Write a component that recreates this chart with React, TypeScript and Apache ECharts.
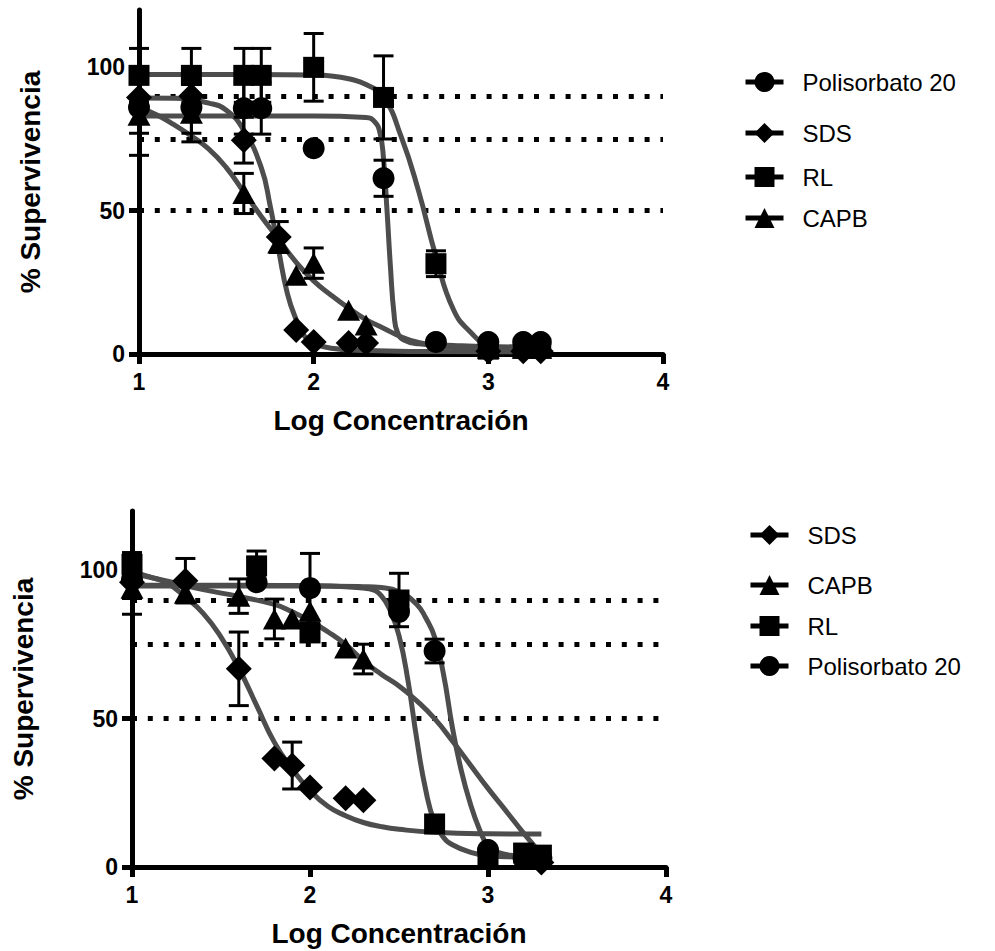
import React, { useEffect, useRef } from 'react';
import * as echarts from 'echarts';

const FONT = '"Liberation Sans", Arial, Helvetica, sans-serif';

const NAME_POL = 'Polisorbato 20';
const NAME_SDS = 'SDS';
const NAME_RL = 'RL';
const NAME_CAPB = 'CAPB';

const xTicks = [1, 2, 3, 4];
const yTicks = [0, 50, 100];
const refLevels = [90, 75, 50];

// ---------- Panel A (top) ----------
const aPolX = [1, 1.3, 1.6, 1.7, 2.0, 2.4, 2.7, 3.0, 3.2, 3.3];
const aPolY = [86, 86, 85.7, 85.7, 71.8, 61.3, 4.2, 4.2, 4.2, 4.2];
const aPolErr = [9, 9, 9, 9, 0, 6.3, 0, 0, 0, 0];

const aSdsX = [1, 1.3, 1.6, 1.8, 1.9, 2.0, 2.2, 2.3, 3.0, 3.2, 3.3];
const aSdsY = [89.5, 90, 74.6, 40.8, 8.4, 4.2, 3.8, 3.8, 1, 1, 1];
const aSdsErr = [0, 0, 8, 5.4, 0, 0, 0, 0, 0, 0, 0];

const aRlX = [1, 1.3, 1.6, 1.7, 2.0, 2.4, 2.7, 3.0, 3.2, 3.3];
const aRlY = [97.2, 97.2, 97.2, 97.2, 100, 89.5, 31.5, 1.7, 2, 2];
const aRlErr = [9.4, 9.4, 9.4, 9.4, 11.8, 14.5, 4.5, 0, 0, 0];

const aCapbX = [1, 1.3, 1.6, 1.8, 1.9, 2.0, 2.2, 2.3, 3.0, 3.2, 3.3];
const aCapbY = [83.3, 84, 56, 38.7, 27.5, 31.7, 15.3, 10.1, 2, 2, 2];
const aCapbErr = [14, 10, 7, 0, 0, 5.3, 0, 0, 0, 0, 0];

const aPolCurveX = [1, 1.5, 2.0, 2.3, 2.35, 2.38, 2.4, 2.42, 2.44, 2.46, 2.48, 2.52, 2.6, 2.8, 3.0, 3.3];
const aPolCurveY = [83, 83, 83, 82.5, 81, 77, 68, 50, 30, 14, 7.5, 4.8, 3.6, 3, 2.6, 2.4];

const aSdsCurveX = [1, 1.2, 1.4, 1.5, 1.6, 1.7, 1.75, 1.8, 1.85, 1.9, 1.95, 2.0, 2.1, 2.3, 2.6, 3.3];
const aSdsCurveY = [89.3, 89.2, 87.5, 85, 78, 65, 52, 36, 21, 12, 6, 3.8, 2, 1.2, 0.9, 0.8];

const aRlCurveX = [1, 1.5, 2.0, 2.1, 2.2, 2.3, 2.4, 2.5, 2.6, 2.7, 2.8, 2.9, 3.0, 3.1, 3.3];
const aRlCurveY = [97.5, 97.5, 97.3, 97, 96, 94, 89.5, 76, 57, 34, 15.5, 7.5, 3, 2, 1.5];

const aCapbCurveX = [1, 1.1, 1.2, 1.3, 1.4, 1.5, 1.6, 1.7, 1.8, 1.9, 2.0, 2.1, 2.2, 2.3, 2.4, 2.5, 2.6, 2.7, 2.9, 3.3];
const aCapbCurveY = [86, 83.5, 80, 76, 71.5, 65, 56.5, 48, 40, 32, 25.5, 20.5, 16, 12, 9, 6, 4, 3, 2, 1.6];

// ---------- Panel B (bottom) ----------
const bSdsX = [1, 1.3, 1.6, 1.8, 1.9, 2.0, 2.2, 2.3, 3.3];
const bSdsY = [96, 96.5, 66.8, 36.6, 34.2, 26.8, 23.2, 22.5, 1.5];
const bSdsErr = [0, 7.5, 12.4, 0, 7.9, 0, 0, 0, 0];

const bCapbX = [1, 1.3, 1.6, 1.8, 1.9, 2.0, 2.2, 2.3, 3.0, 3.2, 3.3];
const bCapbY = [94, 92.3, 91.3, 83.6, 83.6, 86.2, 73.8, 70.1, 3, 3, 3];
const bCapbErr = [8.8, 0, 5.8, 6.7, 0, 0, 0, 5, 0, 0, 0];

const bRlX = [1, 1.7, 2.0, 2.5, 2.7, 3.0, 3.2, 3.3];
const bRlY = [102, 101.5, 78.9, 90, 14.5, 3, 4.7, 4];
const bRlErr = [4, 5, 0, 9, 0, 0, 0, 0];

const bPolX = [1, 1.7, 2.0, 2.5, 2.7, 3.0, 3.2, 3.3];
const bPolY = [97, 96, 94, 86, 72.8, 5.7, 3, 3];
const bPolErr = [6.5, 0, 11.7, 0, 4, 0, 0, 0];

const bSdsCurveX = [1, 1.1, 1.2, 1.3, 1.4, 1.5, 1.6, 1.7, 1.8, 1.9, 2.0, 2.1, 2.2, 2.3, 2.4, 2.5, 2.7, 3.0, 3.3];
const bSdsCurveY = [99.5, 97.8, 95.6, 91, 85.5, 77.5, 67, 54.5, 42, 33, 25.8, 20.5, 17.3, 15, 13.6, 12.7, 11.7, 11.2, 11.1];

const bCapbCurveX = [1, 1.2, 1.4, 1.6, 1.8, 1.9, 2.0, 2.1, 2.2, 2.3, 2.4, 2.5, 2.6, 2.7, 2.8, 2.9, 3.0, 3.1, 3.2, 3.3];
const bCapbCurveY = [99, 96.3, 93.5, 91.2, 88.5, 86, 83, 79.3, 75, 69.5, 65, 61, 56, 50, 42.5, 34.5, 26.5, 19, 11.4, 4.3];

const bRlCurveX = [1, 1.5, 2.0, 2.2, 2.3, 2.35, 2.4, 2.45, 2.5, 2.55, 2.6, 2.65, 2.7, 2.75, 2.8, 2.9, 3.0, 3.15, 3.3];
const bRlCurveY = [95, 95, 94.8, 94.5, 94, 93.5, 91.5, 86.5, 78, 63, 43, 26, 15, 10, 7.5, 5, 3.8, 3.4, 3.3];

const bPolCurveX = [1, 1.5, 2.0, 2.3, 2.4, 2.5, 2.6, 2.65, 2.7, 2.75, 2.8, 2.85, 2.9, 2.95, 3.0, 3.05, 3.15, 3.3];
const bPolCurveY = [94.7, 94.7, 94.7, 94.5, 94.2, 92.8, 88.5, 84, 77.5, 65, 47, 32.5, 21.5, 13, 7, 5, 3.8, 3.2];

const topLegendOrder = [NAME_POL, NAME_SDS, NAME_RL, NAME_CAPB];
const bottomLegendOrder = [NAME_SDS, NAME_CAPB, NAME_RL, NAME_POL];

type Def = {
  name: string; symbol: string; size: number | number[];
  x: number[]; y: number[]; err: number[]; cx: number[]; cy: number[];
};

const SYM: Record<string, { symbol: string; size: number | number[] }> = {
  [NAME_POL]: { symbol: 'circle', size: 22 },
  [NAME_SDS]: { symbol: 'diamond', size: 26 },
  [NAME_RL]: { symbol: 'rect', size: 21 },
  [NAME_CAPB]: { symbol: 'triangle', size: [23, 21] },
};

const mk = (name: string, x: number[], y: number[], err: number[], cx: number[], cy: number[]): Def => ({
  name, ...SYM[name], x, y, err, cx, cy,
});

const panelA: Def[] = [
  mk(NAME_POL, aPolX, aPolY, aPolErr, aPolCurveX, aPolCurveY),
  mk(NAME_SDS, aSdsX, aSdsY, aSdsErr, aSdsCurveX, aSdsCurveY),
  mk(NAME_RL, aRlX, aRlY, aRlErr, aRlCurveX, aRlCurveY),
  mk(NAME_CAPB, aCapbX, aCapbY, aCapbErr, aCapbCurveX, aCapbCurveY),
];
const panelB: Def[] = [
  mk(NAME_SDS, bSdsX, bSdsY, bSdsErr, bSdsCurveX, bSdsCurveY),
  mk(NAME_CAPB, bCapbX, bCapbY, bCapbErr, bCapbCurveX, bCapbCurveY),
  mk(NAME_RL, bRlX, bRlY, bRlErr, bRlCurveX, bRlCurveY),
  mk(NAME_POL, bPolX, bPolY, bPolErr, bPolCurveX, bPolCurveY),
];

const renderErr = (params: any, api: any) => {
  const x = api.value(0);
  const y = api.value(1);
  const e = api.value(2);
  const hi = api.coord([x, y + e]);
  const lo = api.coord([x, y - e]);
  const w = 10;
  const style = { stroke: '#000', lineWidth: 3 };
  return {
    type: 'group',
    children: [
      { type: 'line', shape: { x1: hi[0], y1: hi[1], x2: lo[0], y2: lo[1] }, style },
      { type: 'line', shape: { x1: hi[0] - w, y1: hi[1], x2: hi[0] + w, y2: hi[1] }, style },
      { type: 'line', shape: { x1: lo[0] - w, y1: lo[1], x2: lo[0] + w, y2: lo[1] }, style },
    ],
  };
};

function panelSeries(idx: number, defs: Def[]) {
  const out: any[] = [];
  out.push({
    type: 'line', xAxisIndex: idx, yAxisIndex: idx, data: [], silent: true,
    markLine: {
      silent: true, z: 1, symbol: ['none', 'none'], label: { show: false },
      lineStyle: { type: [5, 10.8], width: 5, color: '#000' },
      emphasis: { disabled: true },
      data: refLevels.map((v) => ({ yAxis: v })),
    },
  });
  defs.forEach((d) => {
    out.push({
      type: 'line', xAxisIndex: idx, yAxisIndex: idx, silent: true, z: 3,
      data: d.cx.map((x, i) => [x, d.cy[i]]),
      smooth: 0.5, showSymbol: false, symbol: 'none',
      lineStyle: { color: '#4d4d4d', width: 5 },
      emphasis: { disabled: true },
    });
  });
  defs.forEach((d) => {
    out.push({
      type: 'custom', xAxisIndex: idx, yAxisIndex: idx, silent: true, z: 4,
      renderItem: renderErr,
      encode: { x: 0, y: 1 },
      data: d.x.map((x, i) => [x, d.y[i], d.err[i]]).filter((r) => r[2] > 0),
    });
  });
  defs.forEach((d) => {
    out.push({
      type: 'line', name: d.name, xAxisIndex: idx, yAxisIndex: idx, silent: true, z: 5,
      data: d.x.map((x, i) => [x, d.y[i]]),
      symbol: d.symbol, symbolSize: d.size, showSymbol: true,
      itemStyle: { color: '#000' },
      lineStyle: { width: 0, opacity: 0, color: '#000' },
      emphasis: { disabled: true },
    });
  });
  return out;
}

const xAxisFor = (gridIndex: number) => ({
  type: 'value', gridIndex, min: xTicks[0], max: xTicks[xTicks.length - 1], interval: 1,
  name: 'Log Concentración', nameLocation: 'middle', nameGap: 52,
  nameTextStyle: { fontSize: 28, fontWeight: 'bold', color: '#000', fontFamily: FONT },
  axisLine: { show: true, onZero: false, lineStyle: { color: '#000', width: 5 } },
  axisTick: { show: true, length: 10, lineStyle: { color: '#000', width: 5 } },
  axisLabel: { fontSize: 23, fontWeight: 'bold', color: '#000', fontFamily: FONT, margin: 16 },
  splitLine: { show: false },
});

const yAxisFor = (gridIndex: number) => ({
  type: 'value', gridIndex, min: 0, max: 120, interval: 50,
  name: '% Supervivencia', nameLocation: 'middle', nameGap: 95,
  nameTextStyle: { fontSize: 28, fontWeight: 'bold', color: '#000', fontFamily: FONT },
  axisLine: { show: true, onZero: false, lineStyle: { color: '#000', width: 5 } },
  axisTick: { show: true, length: 10, customValues: yTicks, lineStyle: { color: '#000', width: 5 } },
  axisLabel: { fontSize: 23, fontWeight: 'bold', color: '#000', fontFamily: FONT, margin: 14, customValues: yTicks },
  splitLine: { show: false },
});

const legendCommon = {
  orient: 'vertical', padding: 0, itemWidth: 38, itemHeight: 25, selectedMode: false,
  textStyle: { fontSize: 24, color: '#000', fontFamily: FONT, padding: [0, 0, 0, 14] },
  lineStyle: { color: '#000', width: 5, opacity: 1 },
};

const topLegendTops = [70, 121, 165, 206];
const bottomLegendTops = [523, 573, 614, 654];

const option: any = {
  animation: false,
  backgroundColor: '#fff',
  textStyle: { fontFamily: FONT },
  grid: [
    { left: 139, top: 10, width: 524, height: 344 },
    { left: 132, top: 511, width: 534, height: 356 },
  ],
  xAxis: [xAxisFor(0), xAxisFor(1)],
  yAxis: [yAxisFor(0), yAxisFor(1)],
  legend: [
    ...topLegendOrder.map((n, i) => ({ ...legendCommon, data: [n], left: 743, top: topLegendTops[i] })),
    ...bottomLegendOrder.map((n, i) => ({ ...legendCommon, data: [n], left: 748, top: bottomLegendTops[i] })),
  ],
  series: [...panelSeries(0, panelA), ...panelSeries(1, panelB)],
};

export default function App() {
  const ref = useRef<HTMLDivElement>(null);
  useEffect(() => {
    const chart = echarts.init(ref.current as HTMLDivElement, null, { renderer: 'svg' });
    chart.setOption(option);
    return () => chart.dispose();
  }, []);
  return (
    <div
      ref={ref}
      style={{ position: 'absolute', left: 0, top: 0, width: 995, height: 951, background: '#fff' }}
    />
  );
}
